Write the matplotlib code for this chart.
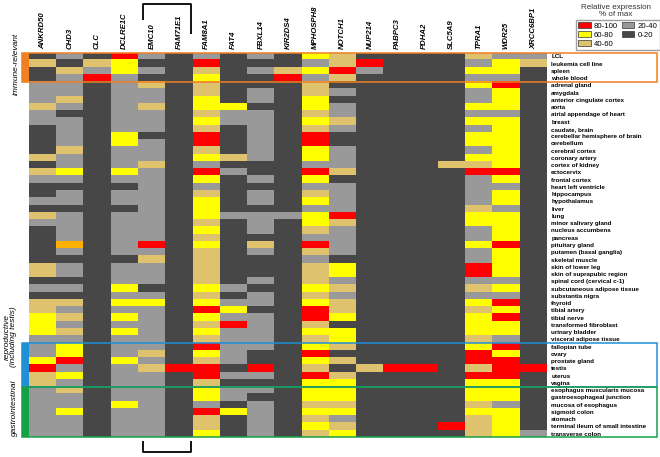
import numpy as np
import matplotlib
matplotlib.use("Agg")
import matplotlib.pyplot as plt
from matplotlib.colors import ListedColormap
from matplotlib.patches import Rectangle, Patch
from matplotlib.lines import Line2D

plt.rcParams['font.family'] = ['Liberation Sans', 'DejaVu Sans']

genes = ["ANKRD50", "CHD3", "CLC", "DCLRE1C", "EMC10", "FAM71E1", "FAM8A1", "FAT4",
         "FBXL14", "KIR2DS4", "MPHOSPH8", "NOTCH1", "NUP214", "PABPC3", "PDHA2",
         "SLC5A9", "TPRA1", "WDR25", "XRCC6BP1"]

tissues = ["LCL", "leukemia cell line", "spleen", "whole blood", "adrenal gland", "amygdala",
           "anterior cingulate cortex", "aorta", "atrial appendage of heart", "breast",
           "caudate, brain", "cerebellar hemisphere of brain", "cerebellum", "cerebral cortex",
           "coronary artery", "cortex of kidney", "ectocervix", "frontal cortex",
           "heart left ventricle", "hippocampus", "hypothalamus", "liver", "lung",
           "minor salivary gland", "nucleus accumbens", "pancreas", "pituitary gland",
           "putamen (basal ganglia)", "skeletal muscle", "skin of lower leg",
           "skin of suprapubic region", "spinal cord (cervical c-1)",
           "subcutaneous adipose tissue", "substantia nigra", "thyroid", "tibial artery",
           "tibial nerve", "transformed fibroblast", "urinary bladder",
           "visceral adipose tissue", "fallopian tube", "ovary", "prostate gland", "testis",
           "uterus", "vagina", "esophagus muscularis mucosa", "gastroesophageal junction",
           "mucosa of esophagus", "sigmoid colon", "stomach",
           "terminal ileum of small intestine", "transverse colon"]

# expression class per tissue, one letter per gene
# D 0-20, G 20-40, T 40-60, Y 60-80, R 80-100, O (orange, off-scale)
expr = ["DGDRGDGDGDYTDDDDTGG",
        "TDTYDDRDDDGTRDDDGYT",
        "DTGYGDTDGTYRGDDDYYD",
        "DGRGDDYDDRGTDDDDGGD",
        "GGDGTDTDDDTDDDDDYRD",
        "GGDGGDTDGDTGDDDDGYD",
        "GTDGGDYDGDYDDDDDGYD",
        "TGDGTDYYDDYGDDDDYYD",
        "GDDGGDTGGDTGDDDDGGD",
        "GGDGGDYGGDYTDDDDYYD",
        "DGDGGDTDGDTGDDDDGYD",
        "DGDYDDRDGDRDDDDDYYD",
        "DGDYGDRDGDRDDDDDYYD",
        "DTDGGDTDGDYGDDDDGYD",
        "TGDGGDYTGDYGDDDDYYD",
        "DGDGTDGDDDGGDDDTTYD",
        "TYDYGDRGDDRTDDDDRRD",
        "GGDGGDYDGDYDDDDDGYD",
        "DDDDGDGDDDGGDDDDGGD",
        "DGDGGDTDGDTGDDDDGYD",
        "GGDGGDYDGDYGDDDDGYD",
        "DDDDGDYDDDGGDDDDTGD",
        "TGDGGDYGGGYRDDDDYYD",
        "GGDGGDTDGDYTDDDDYYD",
        "DGDGGDYDGDTGDDDDGYD",
        "DGDGGDTDDDGGDDDDGYD",
        "DODGRDYDTDRGDDDDYRD",
        "DGDGGDTDGDTGDDDDGYD",
        "DDDDTDTDDDGDDDDDGYD",
        "TGDGGDTDDDTYDDDDRYD",
        "TGDGGDTDDDTYDDDDRYD",
        "DDDGGDTDGDTGDDDDGGD",
        "GGDYDDYGDDYTDDDDTYD",
        "DDDGGDTDGDTGDDDDGGD",
        "TTDYYDYGGDYTDDDDYRD",
        "TGDGGDRYDDRTDDDDTYD",
        "YTDYGDYGGDRYDDDDYRD",
        "YGDGGDTRGDTDDDDDYYD",
        "YTDYGDYGGDYYDDDDYYD",
        "GGDGGDTGGDTYDDDDTGD",
        "GYDGGDRGGDYTDDDDYRD",
        "GYDGTDYGDDRDDDDDRYD",
        "YRDYGDTGDDYTDDDDRRD",
        "RGDGTRRDRDTDTRRDTRR",
        "TYDGGDRGGDRTDDDDRRD",
        "TGDGGDTDDDYYDDDDYYD",
        "GTDGGDYGGDYYDDDDYYD",
        "GGDGGDYGDDYYDDDDYYD",
        "GGDYGDGDGDTTDDDDTGD",
        "GYDGGDRYGDYYDDDDYYD",
        "GGDGGDTDGDTGDDDDTYD",
        "GGDGGDTDGDYTDDDRTYD",
        "GGDGGDYDGDTYDDDDTYG"]

codes = "DGTYRO"
colors = ["#474747", "#999999", "#dec26e", "#ffff00", "#ff0000", "#ffb000"]
legend_labels = ["80-100", "60-80", "40-60", "20-40", "0-20"]

# group boxes: (first row, last row, colour)
groups = [(0, 3, "#f08020"), (40, 45, "#1f8fd6"), (46, 52, "#16a048")]

levels = np.array([[codes.index(c) for c in row] for row in expr])

W, H = 660, 457
fig = plt.figure(figsize=(W / 100, H / 100), dpi=100)

def fx(px):
    return px / W

def fy(py):
    return 1 - py / H

x0, x1, y0, y1 = 29.3, 547, 52.7, 437.3
ax = fig.add_axes([fx(x0), fy(y1), fx(x1 - x0), (y1 - y0) / H])
ax.imshow(levels, cmap=ListedColormap(colors), vmin=-0.5, vmax=5.5,
          aspect='auto', interpolation='nearest')

ax.xaxis.tick_top()
ax.set_xticks(range(len(genes)))
ax.set_xticklabels(genes, rotation=90, fontsize=5.6, fontweight='bold', fontstyle='italic')
ax.yaxis.tick_right()
ax.set_yticks(range(len(tissues)))
ax.set_yticklabels(tissues, fontsize=4.5, fontweight='bold')
ax.tick_params(length=0, pad=3)
for s in ax.spines.values():
    s.set_visible(False)

# coloured group frames, in data units of the heatmap
colw = (x1 - x0) / len(genes)
bar_w = (x0 - 22) / colw
right = (657 - x0) / colw - 0.5
for r0, r1, col in groups:
    ax.add_patch(Rectangle((-0.5 - bar_w, r0 - 0.5), bar_w, r1 - r0 + 1,
                           facecolor=col, edgecolor='none', clip_on=False))
    ax.add_patch(Rectangle((-0.5 - bar_w, r0 - 0.5), right + 0.5 + bar_w, r1 - r0 + 1,
                           facecolor='none', edgecolor=col, lw=1.1, clip_on=False))

fig.text(fx(16), fy(64), "immune-relevant", rotation=90, ha='center', va='center',
         fontsize=6, fontstyle='italic')
fig.text(fx(10.5), fy(337), "reproductive\n(including testis)", rotation=90, ha='center',
         va='center', fontsize=6, fontstyle='italic', linespacing=1.0)
fig.text(fx(14.5), fy(408), "gastrointestinal", rotation=90, ha='center', va='center',
         fontsize=6, fontstyle='italic')

# brackets above and below EMC10 / FAM71E1
lk = dict(color='black', lw=1.3, solid_capstyle='butt')
for xs, ys in [([143, 143, 191, 191], [20, 4, 4, 34]),
               ([143, 143, 191, 191], [441, 452, 452, 441])]:
    fig.add_artist(Line2D([fx(v) for v in xs], [fy(v) for v in ys], **lk))

fig.text(fx(616), fy(4), "Relative expression\n% of max", ha='center', va='top',
         fontsize=5.8, color='#333333', linespacing=1.1)
handles = [Patch(facecolor=colors[i], edgecolor='#333333', lw=0.5) for i in [4, 3, 2, 1, 0]]
fig.legend(handles, legend_labels, ncol=2, loc='upper left',
           bbox_to_anchor=(fx(576), fy(20)), fontsize=5.6, frameon=True,
           fancybox=False, edgecolor='#888888', handlelength=1.6, handleheight=0.8,
           handletextpad=0.4, columnspacing=0.5, labelspacing=0.15, borderpad=0.3,
           borderaxespad=0)

fig.savefig("out.png", dpi=100)
